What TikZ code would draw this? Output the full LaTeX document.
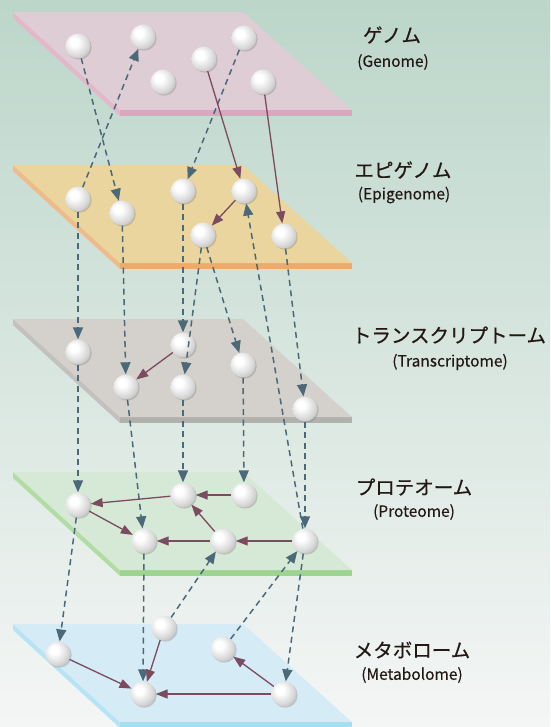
\documentclass[tikz,border=0pt]{standalone}
\usepackage{fontspec}
\newfontfamily\jfont[FakeBold=0.5]{Noto Sans CJK JP}
\newfontfamily\efont[FakeBold=0.3]{Noto Sans CJK JP}
\usetikzlibrary{arrows.meta, shadows}

\definecolor{bgtop}{HTML}{BCD6CA}
\definecolor{bgmid}{HTML}{DDE9E4}
\definecolor{bgbot}{HTML}{F4F6F5}
\definecolor{linkblue}{HTML}{4B6978}
\definecolor{linkpurple}{HTML}{7B4B5F}
\definecolor{txt}{HTML}{231815}
% planes: top face / edge
\definecolor{genTop}{HTML}{DFCDD5}   \definecolor{genEdge}{HTML}{DEA5BE}
\definecolor{epiTop}{HTML}{E9D59D}   \definecolor{epiEdge}{HTML}{EBAA6E}
\definecolor{traTop}{HTML}{D4D0CB}   \definecolor{traEdge}{HTML}{B3B1AD}
\definecolor{proTop}{HTML}{D6E9D6}   \definecolor{proEdge}{HTML}{9DD48F}
\definecolor{metTop}{HTML}{D5EBF5}   \definecolor{metEdge}{HTML}{A5DEF1}

\pgfdeclareradialshading{beadshade}{\pgfpoint{-9bp}{9bp}}{%
  color(0bp)=(white); color(8bp)=(white); color(24bp)=(white!86!black);
  color(36bp)=(white!72!black); color(48bp)=(white!56!black); color(70bp)=(white!42!black)}

\tikzset{
  bead/.style={circle, minimum size=25pt, inner sep=0pt, shading=beadshade,
    drop shadow={opacity=0.35, shadow xshift=1.2pt, shadow yshift=-1.2pt}},
  dlink/.style={draw=linkblue, line width=1.5pt, dash pattern=on 6pt off 4.5pt, -{Triangle[length=12pt,width=10pt]}},
  slink/.style={draw=linkpurple, line width=1.3pt, -{Triangle[length=12pt,width=9pt]}},
  jname/.style={text=txt, font=\jfont\fontsize{19.5}{22}\selectfont},
  ename/.style={text=txt, font=\efont\fontsize{15.5}{18}\selectfont}
}

% slab: #1 top y, #2 top colour, #3 edge colour
\newcommand{\layerslab}[3]{
  \fill[#3!80!white] (13,#1) -- (120,#1+98) -- (120,#1+104) -- (13,#1+6) -- cycle;
  \fill[#3] (120,#1+98) rectangle (352,#1+104);
  \fill[#2] (13,#1) -- (243,#1) -- (352,#1+98) -- (120,#1+98) -- cycle;
}

\begin{document}
\begin{tikzpicture}[x=1pt, y=-1pt]
  \useasboundingbox (0,0) rectangle (550,727);
  \shade[top color=bgtop, middle color=bgmid, bottom color=bgbot] (0,0) rectangle (550,727);

  %%% Planes
  \layerslab{12}{genTop}{genEdge}
  \layerslab{165}{epiTop}{epiEdge}
  \layerslab{319}{traTop}{traEdge}
  \layerslab{472}{proTop}{proEdge}
  \layerslab{624}{metTop}{metEdge}

  %%% Genome
  \node[bead] (g1) at (78,46) {};
  \node[bead] (g2) at (143,37) {};
  \node[bead] (g3) at (163,82) {};
  \node[bead] (g4) at (204,59) {};
  \node[bead] (g5) at (244,38) {};
  \node[bead] (g6) at (263,82) {};
  %%% Epigenome
  \node[bead] (e1) at (78,199) {};
  \node[bead] (e2) at (122,213) {};
  \node[bead] (e3) at (183,191) {};
  \node[bead] (e4) at (244,191) {};
  \node[bead] (e5) at (203,235) {};
  \node[bead] (e6) at (284,236) {};
  %%% Transcriptome
  \node[bead] (t1) at (78,352) {};
  \node[bead] (t2) at (126,387) {};
  \node[bead] (t3) at (183,345) {};
  \node[bead] (t4) at (183,387) {};
  \node[bead] (t5) at (243,365) {};
  \node[bead] (t6) at (305,409) {};
  %%% Proteome
  \node[bead] (p1) at (78,505) {};
  \node[bead] (p2) at (183,495) {};
  \node[bead] (p3) at (244,495) {};
  \node[bead] (p4) at (144,541) {};
  \node[bead] (p5) at (223,541) {};
  \node[bead] (p6) at (305,541) {};
  %%% Metabolome
  \node[bead] (m1) at (58,654) {};
  \node[bead] (m2) at (164,628) {};
  \node[bead] (m3) at (223,649) {};
  \node[bead] (m4) at (143,694) {};
  \node[bead] (m5) at (284,694) {};

  %%% Links between layers
  \draw[dlink] (g1) -- (e2);
  \draw[dlink] (e1) -- (g2);
  \draw[dlink] (g5) -- (e3);
  \draw[dlink] (e1) -- (t1);
  \draw[dlink] (e2) -- (t2);
  \draw[dlink] (e3) -- (t3);
  \draw[dlink] (e5) -- (t4);
  \draw[dlink] (e5) -- (t5);
  \draw[dlink] (e6) -- (t6);
  \draw[dlink] (p6) -- (e4);
  \draw[dlink] (t1) -- (p1);
  \draw[dlink] (t2) -- (p4);
  \draw[dlink] (t4) -- (p2);
  \draw[dlink] (t5) -- (p3);
  \draw[dlink] (t6) -- (p6);
  \draw[dlink] (m2) -- (p5);
  \draw[dlink] (m3) -- (p6);
  \draw[dlink] (p1) -- (m1);
  \draw[dlink] (p4) -- (m4);
  \draw[dlink] (p6) -- (m5);

  %%% Links within layers
  \draw[slink] (g4) -- (e4);
  \draw[slink] (g6) -- (e6);
  \draw[slink] (e4) -- (e5);
  \draw[slink] (t3) -- (t2);
  \draw[slink] (p2) -- (p1);
  \draw[slink] (p3) -- (p2);
  \draw[slink] (p1) -- (p4);
  \draw[slink] (p5) -- (p4);
  \draw[slink] (p6) -- (p5);
  \draw[slink] (p5) -- (p2);
  \draw[slink] (m1) -- (m4);
  \draw[slink] (m2) -- (m4);
  \draw[slink] (m5) -- (m4);
  \draw[slink] (m5) -- (m3);

  %%% Names
  \node[jname] (genJ) at (392,35) {ゲノム};
  \node[ename] (genE) at (393,62) {(Genome)};
  \node[jname] (epiJ) at (403,170) {エピゲノム};
  \node[ename] (epiE) at (404,195) {(Epigenome)};
  \node[jname] (traJ) at (449,335) {トランスクリプトーム};
  \node[ename] (traE) at (450,362) {(Transcriptome)};
  \node[jname] (proJ) at (414,487) {プロテオーム};
  \node[ename] (proE) at (414,512) {(Proteome)};
  \node[jname] (metJ) at (412,650) {メタボローム};
  \node[ename] (metE) at (412,675) {(Metabolome)};
\end{tikzpicture}
\end{document}
